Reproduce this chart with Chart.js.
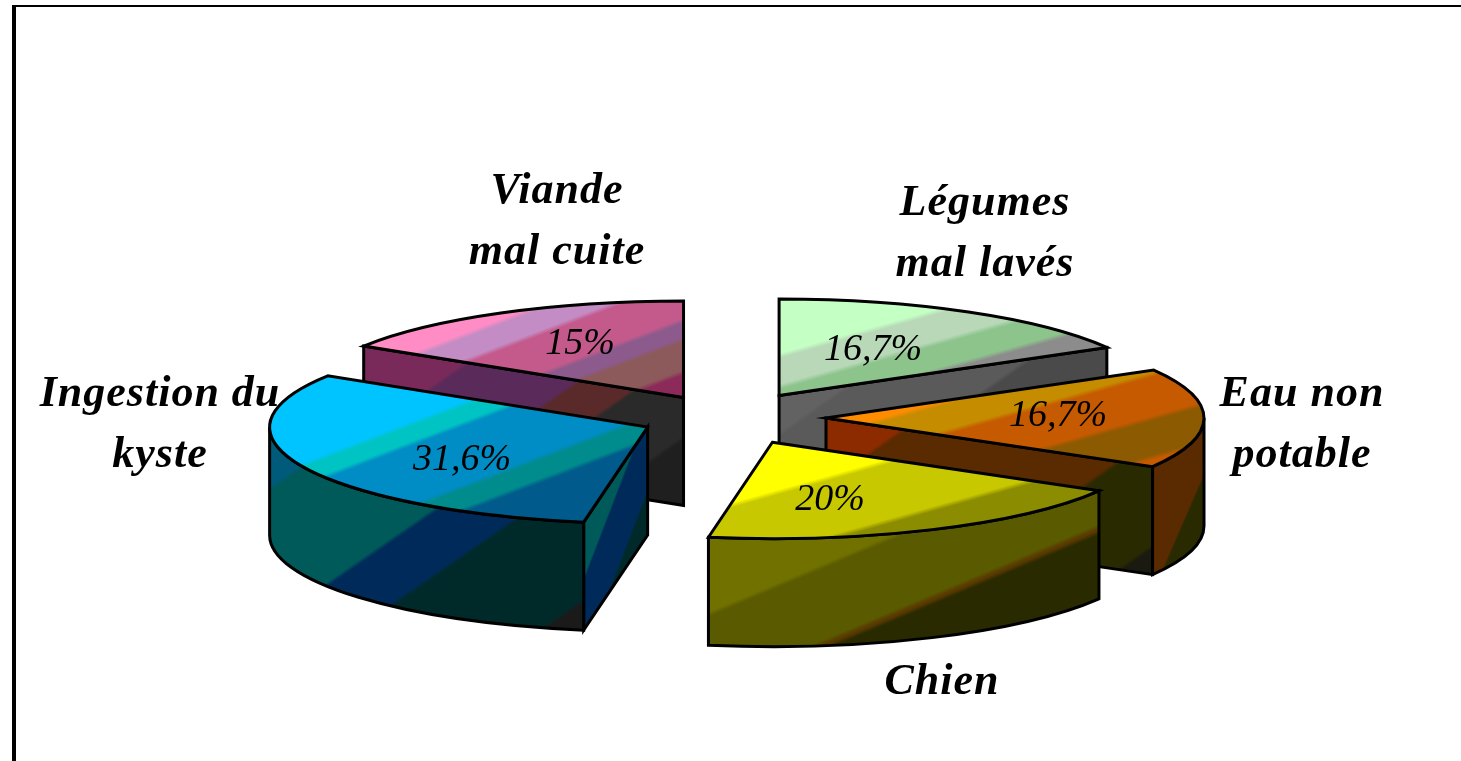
<!DOCTYPE html>
<html>
<head>
<meta charset="utf-8">
<style>
  html, body { margin: 0; background: #fff; overflow: hidden; }
  #frame { position: absolute; left: 12px; top: 5px; width: 1449px; height: 756px; box-sizing: border-box;
           border-left: 4px solid #000; border-top: 2px solid #000; }
  #chart { position: absolute; left: 0; top: 0; }
</style>
</head>
<body>
<div id="frame"></div>
<canvas id="chart" width="1461" height="761"></canvas>
<script src="https://cdn.jsdelivr.net/npm/chart.js@4/dist/chart.umd.min.js"></script>
<script>
const categories = [
  ["Légumes", "mal lavés"],
  ["Eau non", "potable"],
  ["Chien"],
  ["Ingestion du", "kyste"],
  ["Viande", "mal cuite"],
];
const shares = [16.7, 16.7, 20, 31.6, 15];

// how far each slice is pulled out of the pie
const explode = [102, 98, 105, 88, 92];
// the 3d view squeezes the far side a bit, degrees moved at each slice end
const perspectiveShift = [0, 0, -2.5, -3.8, 0];
// back to front, the library would draw them in data order
const paintOrder = [4, 0, 1, 3, 2];

const pieX = 728;
const pieY = 418;
const radius = 378;
const tilt = 0.255;
const depth = 108;

// bands: slope of the band lines, first colour, then [y + slope * x, next colour]
const topBands = [
  { s: 0.28, first: "#c4ffc4", steps: [[574, "#b8d8b8"], [605, "#8cc48c"], [633, "#8c8c8c"]] },
  { s: 0.28, first: "#ff8c00", steps: [[667, "#c68c00"], [697, "#c65a00"], [741, "#8c5a00"], [780, "#c65a00"]] },
  { s: 0.28, first: "#ffff00", steps: [[710, "#c8c800"], [770, "#8c8c00"]] },
  { s: 0.38, first: "#00c4ff", steps: [[580, "#00c4c4"], [600, "#008cc4"], [663, "#008c8c"], [686, "#005a8c"]] },
  { s: 0.38, first: "#ff8cc4", steps: [[512, "#c48cc4"], [538, "#c45a8c"], [580, "#8c5a8c"], [599, "#8c5a5a"], [632, "#8c2a5a"]] },
];
const wallBands = [
  null,
  { s: 2.3, first: "#5a2a00", steps: [[3244, "#2a2a00"]] },
  { s: 0.42, first: "#717100", steps: [[912, "#5a5a00"], [988, "#5a3a00"], [994, "#2a2a00"]] },
  { s: 0.69, first: "#005a7a", steps: [[675, "#005a5a"], [810, "#002a5a"], [875, "#002a2a"], [1003, "#1a1a1a"]] },
  null,
];
const cutBands = [
  { s: 0.7, first: "#626262", steps: [[980, "#5a5a5a"], [1080, "#4a4a4a"]] },
  { s: 0.7, first: "#8c2a00", steps: [[1062, "#5a2a00"], [1245, "#2a2a00"], [1353, "#1a1a10"]] },
  null,
  { s: 2.6, first: "#005a5a", steps: [[2097, "#002a5a"], [2175, "#002a2a"]] },
  { s: 0.7, first: "#7a2a5a", steps: [[690, "#5a2a5a"], [786, "#5a2a2a"], [834, "#2a2a2a"], [916, "#1f1f1f"]] },
];

const nameSpots = [
  { x: 985, y: 215 },
  { x: 1302, y: 406 },
  { x: 942, y: 694 },
  { x: 160, y: 406 },
  { x: 557, y: 203 },
];
const shareSpots = [
  { x: 873, y: 360 },
  { x: 1058, y: 426 },
  { x: 830, y: 510 },
  { x: 462, y: 470 },
  { x: 580, y: 354 },
];
const nameFont = "italic bold 44px 'Liberation Serif'";
const shareFont = "italic 38px 'Liberation Serif'";
const lineGap = 61;

// apparent start and end of a slice, canvas radians
function sliceAngles(i) {
  const sum = shares.reduce((a, b) => a + b, 0);
  const endOf = (n) => {
    if (n < 0) return -Math.PI / 2;
    const upTo = shares.slice(0, n + 1).reduce((a, b) => a + b, 0);
    return (upTo / sum) * 2 * Math.PI - Math.PI / 2 + (perspectiveShift[n] * Math.PI) / 180;
  };
  return [endOf(i - 1), endOf(i)];
}

function apexOf(i) {
  const [a0, a1] = sliceAngles(i);
  const mid = (a0 + a1) / 2;
  return {
    x: pieX + Math.cos(mid) * explode[i],
    y: pieY + Math.sin(mid) * explode[i] * tilt,
  };
}

function addStops(grad, band, f0, f1) {
  const span = f1 - f0;
  grad.addColorStop(0, band.first);
  let prev = band.first;
  band.steps.forEach(([f, color]) => {
    grad.addColorStop((f - 2.5 - f0) / span, prev);
    grad.addColorStop((f + 2.5 - f0) / span, color);
    prev = color;
  });
  grad.addColorStop(1, prev);
}

// gradient in page pixels, for the walls
function wallFill(ctx, band) {
  const f0 = band.steps[0][0] - 400;
  const f1 = band.steps[band.steps.length - 1][0] + 400;
  const k = 1 / (band.s * band.s + 1);
  const grad = ctx.createLinearGradient(0, f0, (f1 - f0) * k * band.s, f0 + (f1 - f0) * k);
  addStops(grad, band, f0, f1);
  return grad;
}

// same thing for the top face, which the arc fills under the tilt transform
function topFill(context) {
  const i = context.dataIndex;
  const chart = context.chart;
  if (i === undefined || !chart.chartArea) return "#888";
  const band = topBands[i];
  const apex = apexOf(i);
  const ex = (chart.chartArea.left + chart.chartArea.right) / 2;
  const ey = (chart.chartArea.top + chart.chartArea.bottom) / 2;
  const f0 = band.steps[0][0] - 300;
  const f1 = band.steps[band.steps.length - 1][0] + 300;
  const k = (f1 - f0) / (band.s * band.s + tilt * tilt);
  const ux = ex;
  const uy = ey + (f0 - apex.y - band.s * apex.x) / tilt;
  const grad = chart.ctx.createLinearGradient(ux, uy, ux + k * band.s, uy + k * tilt);
  addStops(grad, band, f0, f1);
  return grad;
}

function drawSlice(ctx, arc, i) {
  const a0 = arc.startAngle;
  const a1 = arc.endAngle;
  const apex = apexOf(i);
  const rx = arc.outerRadius;
  const ry = rx * tilt;
  const rimX = (a) => apex.x + Math.cos(a) * rx;
  const rimY = (a) => apex.y + Math.sin(a) * ry;

  ctx.save();
  ctx.strokeStyle = "#000";
  ctx.lineWidth = 3;
  ctx.lineJoin = "miter";

  // cut faces that look towards us
  [[a0, Math.cos(a0) < -0.01], [a1, Math.cos(a1) > 0.01]].forEach(([a, visible]) => {
    if (!visible || !cutBands[i]) return;
    ctx.beginPath();
    ctx.moveTo(apex.x, apex.y);
    ctx.lineTo(rimX(a), rimY(a));
    ctx.lineTo(rimX(a), rimY(a) + depth);
    ctx.lineTo(apex.x, apex.y + depth);
    ctx.closePath();
    ctx.fillStyle = wallFill(ctx, cutBands[i]);
    ctx.fill();
    ctx.stroke();
  });

  // curved outer wall, only the front half of the circle shows
  const from = Math.max(a0, 0);
  const to = Math.min(a1, Math.PI);
  if (wallBands[i] && to > from) {
    ctx.beginPath();
    ctx.ellipse(apex.x, apex.y, rx, ry, 0, from, to);
    ctx.ellipse(apex.x, apex.y + depth, rx, ry, 0, to, from, true);
    ctx.closePath();
    ctx.fillStyle = wallFill(ctx, wallBands[i]);
    ctx.fill();
    ctx.stroke();
  }

  // top face comes from the arc element itself
  ctx.save();
  ctx.translate(apex.x, apex.y);
  ctx.scale(1, tilt);
  ctx.translate(-arc.x, -arc.y);
  arc.draw(ctx);
  ctx.restore();

  ctx.beginPath();
  ctx.moveTo(apex.x, apex.y);
  ctx.lineTo(rimX(a0), rimY(a0));
  ctx.ellipse(apex.x, apex.y, rx, ry, 0, a0, a1);
  ctx.closePath();
  ctx.stroke();
  ctx.restore();
}

const tiltedPie = {
  id: "tiltedPie",
  afterDatasetUpdate(chart, args) {
    args.meta.data.forEach((arc, i) => {
      const [a0, a1] = sliceAngles(i);
      arc.startAngle = a0;
      arc.endAngle = a1;
      arc.circumference = a1 - a0;
    });
  },
  beforeDatasetDraw(chart, args) {
    const ctx = chart.ctx;
    const arcs = args.meta.data;
    paintOrder.forEach((i) => drawSlice(ctx, arcs[i], i));
    return false;
  },
  afterDraw(chart) {
    const ctx = chart.ctx;
    ctx.save();
    ctx.fillStyle = "#000";
    ctx.textAlign = "center";
    ctx.textBaseline = "alphabetic";
    ctx.font = nameFont;
    ctx.letterSpacing = "1px";
    categories.forEach((lines, i) => {
      lines.forEach((line, n) => ctx.fillText(line, nameSpots[i].x, nameSpots[i].y + n * lineGap));
    });
    ctx.font = shareFont;
    ctx.letterSpacing = "0px";
    shares.forEach((v, i) => {
      ctx.fillText(`${v}%`.replace(".", ","), shareSpots[i].x, shareSpots[i].y);
    });
    ctx.restore();
  },
};

const chart = new Chart(document.getElementById("chart"), {
  type: "pie",
  data: {
    labels: categories,
    datasets: [
      {
        data: shares,
        backgroundColor: topFill,
        borderWidth: 0,
      },
    ],
  },
  options: {
    responsive: false,
    animation: false,
    events: [],
    radius: radius,
    plugins: {
      legend: { display: false },
      tooltip: { enabled: false },
    },
  },
  plugins: [tiltedPie],
});
</script>
</body>
</html>
